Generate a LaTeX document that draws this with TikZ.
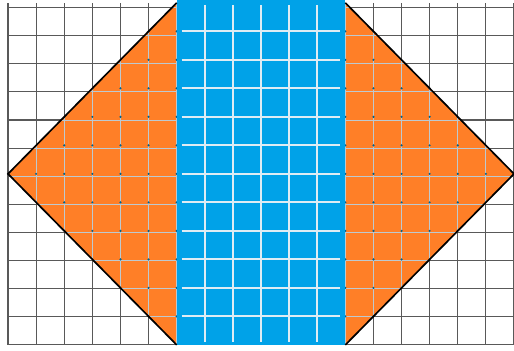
\documentclass[tikz,border=0pt]{standalone}
\usepackage{tikz}
\usetikzlibrary{calc}
\definecolor{paintorange}{RGB}{255,127,39}
\definecolor{paintblue}{RGB}{0,162,232}
\definecolor{paleline}{RGB}{222,236,244}
\tikzset{g/.style={draw=black!65,line width=1.2pt}}
\tikzset{p/.style={draw=paleline!85!black,line width=1pt}}
\tikzset{w/.style={draw=paleline,line width=2.2pt}}
\tikzset{e/.style={draw=black,line width=1.7pt}}
\begin{document}
\begin{tikzpicture}[x=1cm,y=1.014cm]
        \useasboundingbox (-0.285,-0.21) rectangle (18,12.1);
        \draw[g] (0,0) grid (18,12);
        \coordinate (L) at (0,6);
        \coordinate (TL) at (6,12);
        \coordinate (TR) at (12,12);
        \coordinate (R) at (18,6);
        \coordinate (BR) at (12,0);
        \coordinate (BL) at (6,0);
        \fill[paintorange](L)--(TL)--(TR)--(R)--(BR)--(BL)--cycle;
        \begin{scope}
          \clip (L)--(TL)--(TR)--(R)--(BR)--(BL)--cycle;
          \draw[p] (0,0) grid (18,12);
          \foreach \x in {0,...,18}
            \foreach \y in {0,...,12}
              \fill[paintblue!60!black] (\x,\y) circle (1.2pt);
        \end{scope}
        \fill[paintblue](6,12.1) rectangle (BR);
        \foreach \x in {7,...,11}
          \draw[w] (\x,11.93) -- (\x,0.1);
        \foreach \y in {1,...,11}
          \draw[w] (6.18,\y) -- (11.82,\y);
        \draw[e] (TL)--(L)--(BL);
        \draw[e] (TR)--(R)--(BR);
      \end{tikzpicture}
\end{document}
